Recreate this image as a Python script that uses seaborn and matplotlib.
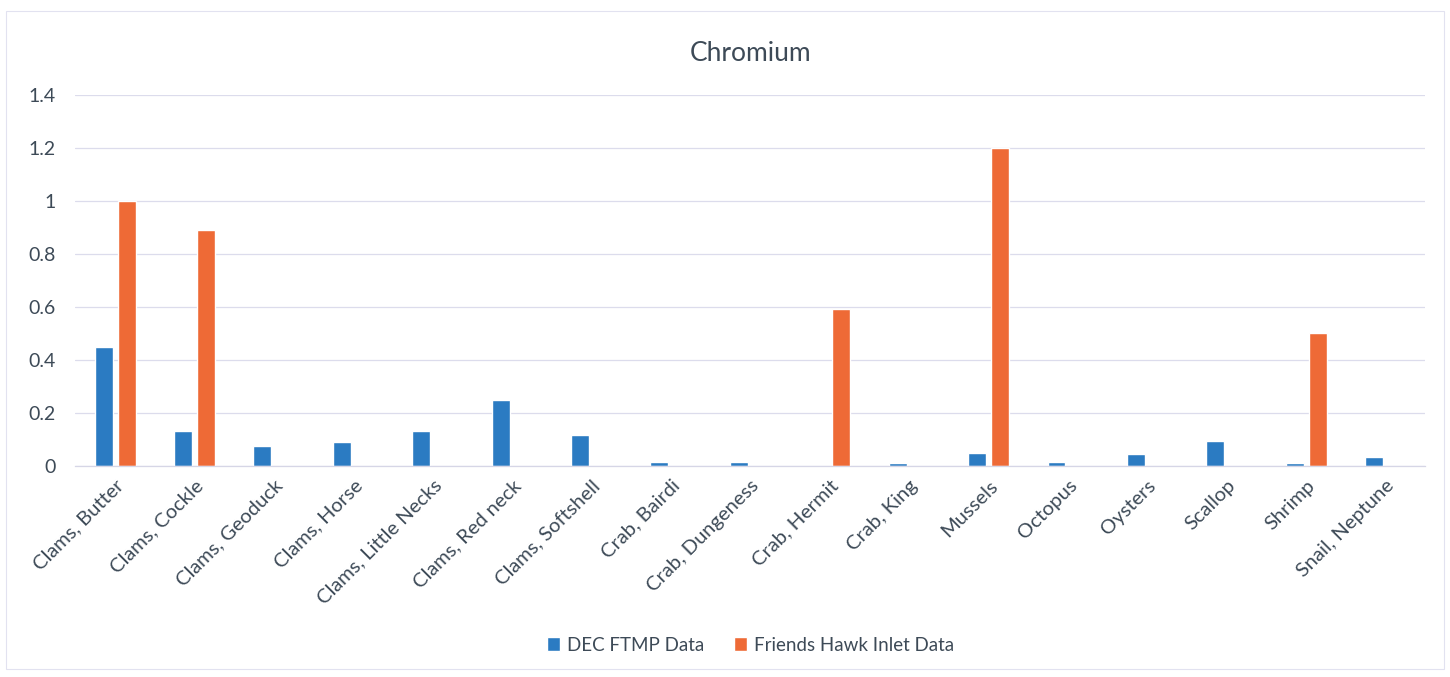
import matplotlib
matplotlib.use("Agg")
import matplotlib.pyplot as plt
import seaborn as sns
import pandas as pd
from matplotlib.patches import Rectangle

# Chromium concentrations by species and data source
categories = [
    "Clams, Butter", "Clams, Cockle", "Clams, Geoduck", "Clams, Horse",
    "Clams, Little Necks", "Clams, Red neck", "Clams, Softshell",
    "Crab, Bairdi", "Crab, Dungeness", "Crab, Hermit", "Crab, King",
    "Mussels", "Octopus", "Oysters", "Scallop", "Shrimp", "Snail, Neptune",
]
dec_ftmp = [0.45, 0.13, 0.073, 0.088, 0.13, 0.25, 0.115, 0.015, 0.015,
            0.0, 0.012, 0.05, 0.015, 0.045, 0.095, 0.012, 0.035]
friends_hawk = [1.0, 0.89, 0.0, 0.0, 0.0, 0.0, 0.0, 0.0, 0.0,
                0.59, 0.0, 1.2, 0.0, 0.0, 0.0, 0.5, 0.0]
series_names = ["DEC FTMP Data", "Friends Hawk Inlet Data"]
y_ticks = [0, 0.2, 0.4, 0.6, 0.8, 1, 1.2, 1.4]
y_tick_labels = ["0", "0.2", "0.4", "0.6", "0.8", "1", "1.2", "1.4"]

df = pd.DataFrame({
    "Species": categories * 2,
    "Source": [series_names[0]] * len(categories) + [series_names[1]] * len(categories),
    "Value": dec_ftmp + friends_hawk,
})

sns.set_theme(style="white")
plt.rcParams["font.family"] = ["Lato", "DejaVu Sans"]
text_color = "#3d4a57"

fig = plt.figure(figsize=(14.5, 6.77), dpi=100)
ax = fig.add_axes([0.052, 0.312, 0.931, 0.548])

sns.barplot(
    data=df, x="Species", y="Value", hue="Source", order=categories,
    hue_order=series_names, palette=["#2b7bc2", "#ee6a36"],
    width=0.58, gap=0.22, ax=ax, legend=True, saturation=1,
)

ax.set_ylim(0, 1.4)
ax.set_yticks(y_ticks)
ax.set_yticklabels(y_tick_labels)
ax.yaxis.grid(True, color="#dcdcec", linewidth=0.9)
ax.set_axisbelow(True)
for s in ["top", "right", "left"]:
    ax.spines[s].set_visible(False)
ax.spines["bottom"].set_color("#d6d6e6")
ax.spines["bottom"].set_linewidth(0.9)
ax.tick_params(axis="y", length=0, pad=14, labelsize=14, labelcolor=text_color)
ax.tick_params(axis="x", length=0, pad=8, labelsize=14.5, labelcolor=text_color)
plt.setp(ax.get_xticklabels(), rotation=45, ha="right", rotation_mode="anchor")
ax.set_xlabel("")
ax.set_ylabel("")

ax.set_title("Chromium", fontsize=19, color=text_color, pad=24)

ax.legend(
    loc="upper center", bbox_to_anchor=(0.5, -0.415), ncol=2, frameon=False,
    fontsize=13.5, labelcolor=text_color, handlelength=0.7, handleheight=0.7,
    handletextpad=0.35, columnspacing=1.6,
)

# light chart-area border
fig.patches.append(Rectangle((0.004, 0.012), 0.992, 0.972, transform=fig.transFigure,
                             fill=False, edgecolor="#e2e2f0", linewidth=0.8))

fig.savefig("out.png", dpi=100, facecolor="white")
